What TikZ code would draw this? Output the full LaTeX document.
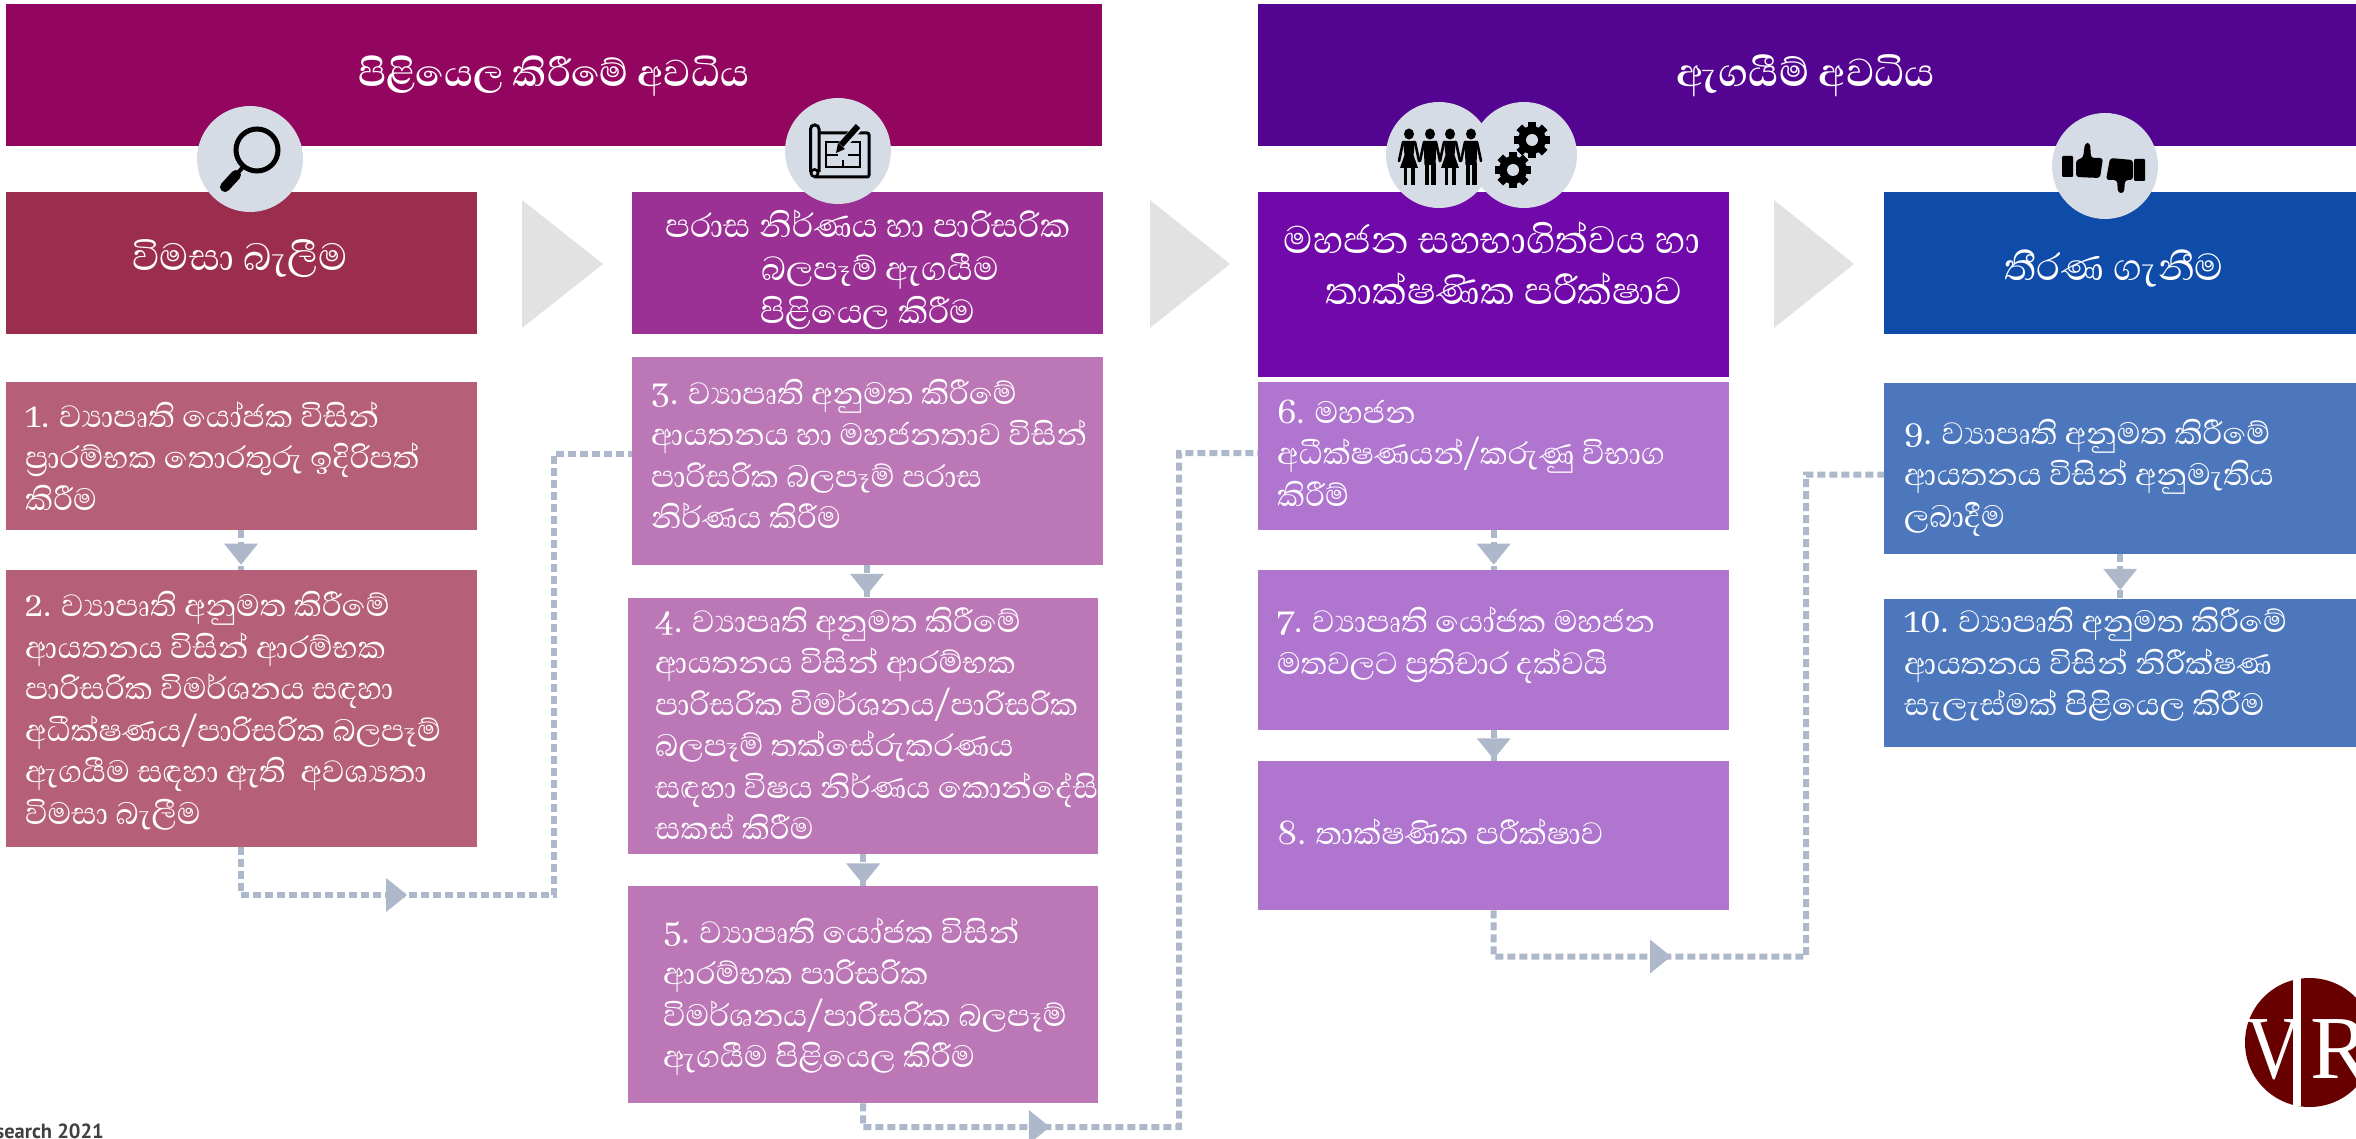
\documentclass[tikz,border=0pt]{standalone}
\usepackage{fontspec}
\usetikzlibrary{decorations.markings,calc}
\newfontfamily\sinhfont[Script=Sinhala]{Abhaya Libre}
\newfontfamily\logofont{Liberation Serif}
\newfontfamily\footfont{PT Sans}
\newcommand\topline{\rule{0pt}{60pt}}
\definecolor{hdrA}{HTML}{92065F}
\definecolor{hdrB}{HTML}{530491}
\definecolor{secA}{HTML}{9B2D4E}
\definecolor{secB}{HTML}{9B3095}
\definecolor{secC}{HTML}{7109AA}
\definecolor{secD}{HTML}{0F4BA8}
\definecolor{stA}{HTML}{B56078}
\definecolor{stB}{HTML}{BC77B7}
\definecolor{stC}{HTML}{AF75CF}
\definecolor{stD}{HTML}{4C77BD}
\definecolor{chev}{HTML}{E2E2E2}
\definecolor{disc}{HTML}{D6DCE5}
\definecolor{flow}{HTML}{ADB9CA}
\definecolor{logored}{HTML}{680000}
\tikzset{
  panel/.style={draw=none,inner sep=0pt,anchor=north west},
  stxt/.style={anchor=north west,inner sep=0pt,text=white,align=left,yshift=60pt,
    font=\sinhfont\fontsize{39.5}{41.5}\selectfont},
  htxt/.style={anchor=north,inner sep=0pt,text=white,align=center,yshift=60pt,
    font=\sinhfont\bfseries\fontsize{#1}{#1}\selectfont},
  chevron/.style={fill=chev,draw=none},
  icondisc/.style={circle,fill=disc,minimum size=106pt,inner sep=0pt},
  flowline/.style={draw=flow,line width=6pt,dash pattern=on 8pt off 4pt,
    postaction={decorate,decoration={markings,mark=at position #1 with
      {\fill[flow] (-10.5pt,-17pt)--(10.5pt,0pt)--(-10.5pt,17pt)--cycle;}}}},
  gearicon/.pic={
    \fill[black] (0,0) circle (14pt);
    \foreach \a in {0,45,...,315}{
      \fill[black,rotate=\a] (-4pt,-18pt) rectangle (4pt,0pt);}
    \fill[disc] (0,0) circle (6pt);
  },
  womanicon/.pic={
    \fill (0,51pt) ellipse (5pt and 5.5pt);
    \fill (-6pt,44pt) -- (6pt,44pt) -- (4.5pt,30pt) -- (9pt,17pt) -- (-9pt,17pt) -- (-4.5pt,30pt) -- cycle;
    \fill (-5.5pt,17pt) rectangle (-2pt,0pt);
    \fill (2pt,17pt) rectangle (5.5pt,0pt);
    \draw[line width=2.6pt,line cap=round] (-6pt,43pt) -- (-10pt,24pt);
    \draw[line width=2.6pt,line cap=round] (6pt,43pt) -- (10pt,24pt);
  },
  manicon/.pic={
    \fill (0,51pt) ellipse (5pt and 5.5pt);
    \fill (-6.5pt,44pt) -- (6.5pt,44pt) -- (5.5pt,20pt) -- (-5.5pt,20pt) -- cycle;
    \fill (-5.5pt,22pt) rectangle (-1pt,0pt);
    \fill (1pt,22pt) rectangle (5.5pt,0pt);
    \draw[line width=2.6pt,line cap=round] (-6pt,43pt) -- (-10pt,24pt);
    \draw[line width=2.6pt,line cap=round] (6pt,43pt) -- (10pt,24pt);
  }
}
\begin{document}
\begin{tikzpicture}[x=1pt,y=-1pt]
\useasboundingbox (0,0) rectangle (2356,1139);
% phase headers
\node[panel,fill=hdrA,minimum width=1096pt,minimum height=142pt] (hA) at (6,4) {};
\node[panel,fill=hdrB,minimum width=1098pt,minimum height=142pt] (hB) at (1258,4) {};
\node[htxt=48] (thA) at (554,86.5) {\topline පිළියෙල කිරීමේ අවධිය};
\node[htxt=50] (thB) at (1806,86.5) {\topline ඇගයීම් අවධිය};
% section boxes
\node[panel,fill=secA,minimum width=471pt,minimum height=142pt] (sA) at (6,192) {};
\node[panel,fill=secB,minimum width=471pt,minimum height=142pt] (sB) at (632,192) {};
\node[panel,fill=secC,minimum width=471pt,minimum height=185pt] (sC) at (1258,192) {};
\node[panel,fill=secD,minimum width=472pt,minimum height=142pt] (sD) at (1884,192) {};
% chevrons
\fill[chevron] (522,200)--(603,264)--(522,328)--cycle;
\fill[chevron] (1150,200)--(1230,264)--(1150,328)--cycle;
\fill[chevron] (1774,200)--(1854,264)--(1774,328)--cycle;
% section titles
\node[htxt=38,font=\sinhfont\fontsize{48.5}{43}\selectfont] (tsA) at (240,270) {\topline විමසා බැලීම};
\node[htxt=38,font=\sinhfont\fontsize{42.5}{43}\selectfont] (tsB) at (868,237) {\topline පරාස නිර්ණය හා පාරිසරික\\\hspace*{24pt}බලපෑම් ඇගයීම\\පිළියෙල කිරීම};
\node[htxt=38,font=\sinhfont\fontsize{49}{51}\selectfont] (tsC) at (1492,253) {\topline මහජන සහභාගිත්වය හා\\\hspace*{24pt}තාක්ෂණික පරීක්ෂාව};
\node[htxt=38,font=\sinhfont\fontsize{48}{43}\selectfont] (tsD) at (2114,280) {\topline තීරණ ගැනීම};
% step boxes
\node[panel,fill=stA,minimum width=471pt,minimum height=148pt] (s1) at (6,382) {};
\node[panel,fill=stA,minimum width=471pt,minimum height=277pt] (s2) at (6,570) {};
\node[panel,fill=stB,minimum width=471pt,minimum height=208pt] (s3) at (632,357) {};
\node[panel,fill=stB,minimum width=470pt,minimum height=256pt] (s4) at (628,598) {};
\node[panel,fill=stB,minimum width=470pt,minimum height=217pt] (s5) at (628,886) {};
\node[panel,fill=stC,minimum width=471pt,minimum height=148pt] (s6) at (1258,382) {};
\node[panel,fill=stC,minimum width=471pt,minimum height=160pt] (s7) at (1258,570) {};
\node[panel,fill=stC,minimum width=471pt,minimum height=149pt] (s8) at (1258,761) {};
\node[panel,fill=stD,minimum width=472pt,minimum height=171pt] (s9) at (1884,383) {};
\node[panel,fill=stD,minimum width=472pt,minimum height=148pt] (s10) at (1884,599) {};
% step texts
\node[stxt] (t1) at (25,427) {\topline 1. ව්‍යාපෘති යෝජක විසින්\\ප්‍රාරම්භක තොරතුරු ඉදිරිපත්\\කිරීම};
\node[stxt] (t2) at (25,616.5) {\topline 2. ව්‍යාපෘති අනුමත කිරීමේ\\ආයතනය විසින් ආරම්භක\\පාරිසරික විමර්ශනය සඳහා\\අධීක්ෂණය/පාරිසරික බලපෑම්\\ඇගයීම සඳහා ඇති~~අවශ්‍යතා\\විමසා බැලීම};
\node[stxt] (t3) at (651,404) {\topline 3. ව්‍යාපෘති අනුමත කිරීමේ\\ආයතනය හා මහජනතාව විසින්\\පාරිසරික බලපෑම් පරාස\\නිර්ණය කිරීම};
\node[stxt] (t4) at (655,632) {\topline 4. ව්‍යාපෘති අනුමත කිරීමේ\\ආයතනය විසින් ආරම්භක\\පාරිසරික විමර්ශනය/පාරිසරික\\බලපෑම් තක්සේරුකරණය\\සඳහා විෂය නිර්ණය කොන්දේසි\\සකස් කිරීම};
\node[stxt] (t5) at (663,943) {\topline 5. ව්‍යාපෘති යෝජක විසින්\\ආරම්භක පාරිසරික\\විමර්ශනය/පාරිසරික බලපෑම්\\ඇගයීම පිළියෙල කිරීම};
\node[stxt] (t6) at (1277,423) {\topline 6. මහජන\\අධීක්ෂණයන්/කරුණු විභාග\\කිරීම්};
\node[stxt] (t7) at (1277,632.5) {\topline 7. ව්‍යාපෘති යෝජක මහජන\\මතවලට ප්‍රතිචාර දක්වයි};
\node[stxt] (t8) at (1277,844.5) {\topline 8. තාක්ෂණික පරීක්ෂාව};
\node[stxt] (t9) at (1904,444) {\topline 9. ව්‍යාපෘති අනුමත කිරීමේ\\ආයතනය විසින් අනුමැතිය\\ලබාදීම};
\node[stxt] (t10) at (1904,632.5) {\topline 10. ව්‍යාපෘති අනුමත කිරීමේ\\ආයතනය විසින් නිරීක්ෂණ\\සැලැස්මක් පිළියෙල කිරීම};
% connectors
\coordinate (b1) at (241,530);
\coordinate (e23a) at (241,895);
\coordinate (e23b) at (554,895);
\coordinate (e23c) at (554,454);
\coordinate (e23d) at (632,454);
\coordinate (c34) at (867,565);
\coordinate (e56a) at (863,1127);
\coordinate (e56b) at (1179,1127);
\coordinate (e56c) at (1179,453);
\coordinate (e56d) at (1258,453);
\coordinate (e89a) at (1493.5,956.5);
\coordinate (e89b) at (1806,956.5);
\coordinate (e89c) at (1806,474.5);
\coordinate (e89d) at (1884,474.5);
\path[flowline=0.6] (s1.south -| b1) -- (s2.north -| b1);
\path[flowline=0.231] (s2.south -| b1) -- (e23a) -- (e23b) -- (e23c) -- (e23d);
\path[flowline=0.58] (s3.south -| c34) -- (s4.north -| c34);
\path[flowline=0.62] (s4.south) -- (s5.north);
\path[flowline=0.183] (s5.south) -- (e56a) -- (e56b) -- (e56c) -- (e56d);
\path[flowline=0.6] (s6.south) -- (s7.north);
\path[flowline=0.6] (s7.south) -- (s8.north);
\path[flowline=0.232] (s8.south) -- (e89a) -- (e89b) -- (e89c) -- (e89d);
\path[flowline=0.56] (s9.south) -- (s10.north);
% icon discs
\node[icondisc] (d1) at (250,159) {};
\node[icondisc] (d2) at (838,151) {};
\node[icondisc] (d3b) at (1524,155) {};
\node[icondisc] (d3a) at (1439,155) {};
\node[icondisc] (d4) at (2105,166) {};
% magnifier
\draw[black,line width=5pt] (257,150) circle (21pt);
\draw[black,line width=4pt] (243,167) -- (236,175);
\draw[black,line width=10pt,line cap=round] (236,175) -- (225,187);
% blueprint
\draw[black,line width=3pt,rounded corners=2pt] (820,133) -- (869,133) -- (869,177) -- (814,177);
\draw[black,line width=3pt,rounded corners=4pt] (810.5,172) -- (810.5,125) -- (819,125) -- (819,172);
\fill[black] (814.5,173) circle (5pt);
\fill[disc] (814.5,173) circle (2pt);
\draw[black,line width=1.8pt] (826,142) rectangle (860,167) (826,155) -- (838,155) (848,155) -- (860,155) (843,142) -- (843,150) (843,160) -- (843,167);
\draw[disc,line width=9pt] (838,150) -- (861,124);
\draw[black,line width=6pt] (841,145) -- (858,126);
\fill[black] (836,153) -- (838,143) -- (845,149) -- cycle;
% people
\pic[black] at (1409,185) {womanicon};
\pic[black] at (1430,185) {manicon};
\pic[black] at (1450,185) {womanicon};
\pic[black] at (1471,185) {manicon};
% gears
\pic at (1532,140) {gearicon};
\pic at (1513,170) {gearicon};
% thumbs
\fill[black,rounded corners=1pt] (2062,156) rectangle (2073,177);
\fill[black,rounded corners=3pt] (2076,160) -- (2083,158) -- (2085,143) -- (2090,143) -- (2091,158) -- (2103,158) -- (2100,178) -- (2076,177) -- cycle;
\fill[black,rounded corners=1pt] (2134,159) rectangle (2145,181);
\fill[black,rounded corners=3pt] (2133,180) -- (2125,180) -- (2124,193) -- (2118,193) -- (2117,180) -- (2106,180) -- (2110,158) -- (2133,160) -- cycle;
% logo and footer, cut by the page edge
\begin{scope}
\clip (0,0) rectangle (2356,1139);
\node[circle,fill=logored,minimum size=129pt,inner sep=0pt] (logo) at (2309.5,1042.5) {};
\node[anchor=base,inner sep=0pt,text=white,font=\logofont\fontsize{90}{90}\selectfont,xscale=0.85] (lv) at (2274.5,1078) {V};
\node[anchor=base west,inner sep=0pt,text=white,font=\logofont\fontsize{90}{90}\selectfont] (lr) at (2310,1078) {R};
\draw[white,line width=8pt] (2296.5,975) -- (2296.5,1106);
\node[anchor=base east,inner sep=0pt,text=black!75,font=\footfont\bfseries\fontsize{20.5}{20.5}\selectfont] (foot) at (104,1138) {search 2021};
\end{scope}
\end{tikzpicture}
\end{document}
